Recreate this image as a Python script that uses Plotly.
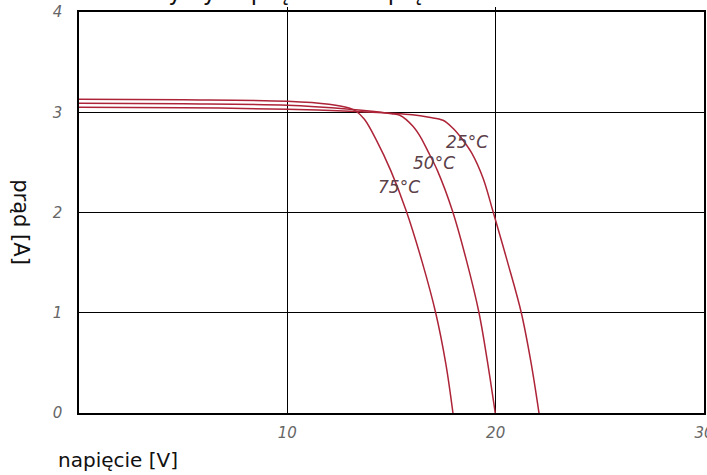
import plotly.graph_objects as go

# I-V curves of a PV module at three temperatures
v75 = [0, 5, 10, 12, 13, 13.3, 13.7, 14.28, 14.96, 15.7, 16.48, 17.12, 17.6, 17.95]
i75 = [3.13, 3.125, 3.11, 3.08, 3.04, 3.01, 2.93, 2.72, 2.42, 2.02, 1.5, 1.0, 0.5, 0]

v50 = [0, 5, 10, 13, 14.5, 15.0, 15.4, 16.03, 16.4, 16.75, 17.2, 17.92, 18.6, 19.2, 19.6, 19.98]
i50 = [3.09, 3.085, 3.07, 3.03, 3.0, 2.985, 2.97, 2.86, 2.75, 2.61, 2.42, 2.02, 1.52, 1.0, 0.52, 0]

v25 = [0, 5, 10, 13, 15, 16, 16.8, 17.47, 17.95, 18.4, 18.86, 19.4, 19.86, 20.55, 21.23, 21.7, 22.08]
i25 = [3.05, 3.045, 3.03, 3.01, 2.99, 2.975, 2.95, 2.92, 2.84, 2.73, 2.59, 2.34, 2.02, 1.52, 1.0, 0.5, 0]

curve_labels = ["25°C", "50°C", "75°C"]
label_x = [18.61, 17.04, 15.36]
label_y = [2.70, 2.49, 2.25]

x_ticks = [10, 20, 30]
y_ticks = [0, 1, 2, 3, 4]

title_text = "Charakterystyka prądowo-napięciowa"
x_title = "napięcie [V]"
y_title = "prąd [A]"

line_color = "#ad2438"

fig = go.Figure()
for v, i in [(v25, i25), (v50, i50), (v75, i75)]:
    fig.add_trace(go.Scatter(x=v, y=i, mode="lines",
                             line=dict(color=line_color, width=1.5, shape="spline", smoothing=1.0),
                             showlegend=False, hoverinfo="skip"))

# invisible trace for top axis ticks
fig.add_trace(go.Scatter(x=[0, 30], y=[0, 0], xaxis="x2", mode="lines",
                         line=dict(width=0), showlegend=False, hoverinfo="skip"))

for t, x, y in zip(curve_labels, label_x, label_y):
    fig.add_annotation(x=x, y=y, xref="x", yref="y", text=t, showarrow=False,
                       font=dict(family="DejaVu Sans", size=17, color="#5a4048", style="italic"),
                       xanchor="center", yanchor="middle")

fig.add_annotation(x=(21.5 - 79) / 625, y=(413.5 - 222) / 401.5, xref="paper", yref="paper",
                   text=y_title, showarrow=False, textangle=90,
                   font=dict(family="DejaVu Sans", size=21, color="#111"),
                   xanchor="center", yanchor="middle")
fig.add_annotation(x=(56 - 79) / 625, y=(413.5 - 461) / 401.5, xref="paper", yref="paper",
                   text=x_title, showarrow=False,
                   font=dict(family="DejaVu Sans", size=20, color="#111"),
                   xanchor="left", yanchor="middle")
fig.add_annotation(x=(52 - 79) / 625, y=1.013, xref="paper", yref="paper", text=title_text,
                   showarrow=False,
                   font=dict(family="DejaVu Sans", size=23, color="#111"),
                   xanchor="left", yanchor="bottom")

tickfont = dict(family="DejaVu Sans", size=15, color="#666", style="italic")

fig.update_layout(
    width=707, height=475, autosize=False,
    margin=dict(l=79, r=3, t=12, b=62),
    paper_bgcolor="white", plot_bgcolor="white",
    xaxis=dict(range=[0, 30], tickvals=x_ticks, showgrid=True, gridcolor="black", gridwidth=1,
               showline=True, linecolor="black", linewidth=1.5, mirror=True, automargin=False,
               zeroline=False, ticks="", tickfont=tickfont, ticklabelstandoff=5,
               ticklabeloverflow="allow"),
    xaxis2=dict(range=[0, 30], overlaying="x", side="top", tickvals=[10, 20], automargin=False,
                ticks="outside", ticklen=4, tickcolor="black", showticklabels=False,
                showgrid=False, zeroline=False, showline=False),
    yaxis=dict(range=[0, 4], tickvals=y_ticks, showgrid=True, gridcolor="black", gridwidth=1,
               showline=True, linecolor="black", linewidth=1.5, mirror=True, automargin=False,
               zeroline=False, ticks="", tickfont=tickfont, ticklabelstandoff=12,
               ticklabeloverflow="allow"),
)

fig.write_html(
    "out.html",
    config={"responsive": False, "displayModeBar": False},
    post_script="document.body.style.margin='0';document.body.style.padding='0';"
                "document.body.style.overflow='hidden';",
)
